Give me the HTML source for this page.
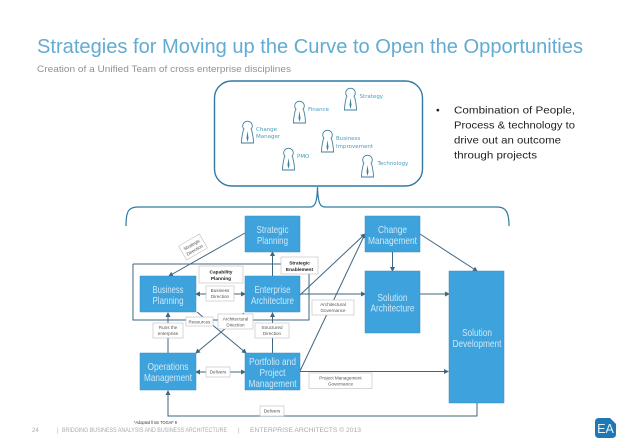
<!DOCTYPE html>
<html><head><meta charset="utf-8"><style>
html,body{margin:0;padding:0;background:#fff}
svg{display:block}
text{font-family:"Liberation Sans",sans-serif}
.n{fill:#3ea3dc;stroke:#3a8fc0;stroke-width:.5}
.w{font-size:10.5px;fill:#cfe8f7;text-anchor:middle}
.l{fill:#fff;stroke:#bdbdbd;stroke-width:.6}
.s{font-size:4.6px;fill:#555;text-anchor:middle}
.b{font-size:4.8px;fill:#222;text-anchor:middle;font-weight:bold}
.c{stroke:#3f6580;stroke-width:1;fill:none}
.p{font-size:5.5px;fill:#4a9cc0;font-family:"DejaVu Sans",sans-serif}
</style></head><body>
<svg width="638" height="448" viewBox="0 0 638 448" xmlns="http://www.w3.org/2000/svg">
<defs>
<marker id="m" markerWidth="5" markerHeight="5" refX="4" refY="2.5" orient="auto" markerUnits="userSpaceOnUse"><path d="M0 0L5 2.5L0 5z" fill="#3f6580"/></marker>
<g id="person"><circle cx="6.500" cy="4" r="4.800" fill="#fff" stroke="#3f7f9f" stroke-width=".9"/><path d="M2.500 7.500C1.500 12 .5 15 .5 21L12.500 21C12.500 15 11.500 12 10.500 7.500" fill="#fff" stroke="#3f7f9f" stroke-width=".9"/><path d="M6.500 9L5.500 16L6.500 20L7.500 16z" fill="#3f7f9f"/></g>
</defs>

<text x="37" y="53" font-size="20.5" fill="#62abd3" textLength="546" lengthAdjust="spacingAndGlyphs">Strategies for Moving up the Curve to Open the Opportunities</text>
<text x="37" y="72" font-size="9.5" fill="#929292" textLength="254" lengthAdjust="spacingAndGlyphs">Creation of a Unified Team of cross enterprise disciplines</text>

<rect x="214.500" y="81" width="208" height="105" rx="17" fill="#fff" stroke="#2f7aa3" stroke-width="1.400"/>
<use href="#person" x="344" y="89"/>
<text class="p" x="359.500" y="98">Strategy</text>
<use href="#person" x="293" y="102"/>
<text class="p" x="308" y="111">Finance</text>
<use href="#person" x="241" y="122"/>
<text class="p" x="256" y="131">Change</text>
<text class="p" x="256" y="138">Manager</text>
<use href="#person" x="321" y="131"/>
<text class="p" x="336" y="140">Business</text>
<text class="p" x="336" y="148">Improvement</text>
<use href="#person" x="282" y="149"/>
<text class="p" x="297" y="158">PMO</text>
<use href="#person" x="361" y="156"/>
<text class="p" x="377.500" y="165">Technology</text>

<text x="436" y="113.500" font-size="10.500" fill="#222">•</text>
<text x="454" y="113.500" font-size="10.500" fill="#222" textLength="121" lengthAdjust="spacingAndGlyphs">Combination of People,</text>
<text x="454" y="128.500" font-size="10.500" fill="#222" textLength="121" lengthAdjust="spacingAndGlyphs">Process &amp; technology to</text>
<text x="454" y="143.500" font-size="10.500" fill="#222" textLength="107" lengthAdjust="spacingAndGlyphs">drive out an outcome</text>
<text x="454" y="158.500" font-size="10.500" fill="#222" textLength="83" lengthAdjust="spacingAndGlyphs">through projects</text>

<path d="M126 226C126 212 128 207 138 207L310 207C315 207 317 203 317.500 187C318 203 320 207 325 207L497 207C506 207 509 212 509 226" fill="none" stroke="#2f7aa3" stroke-width="1.200"/>

<path d="M133 264H300M133 264V320H309V270" class="c" stroke-width=".9"/>

<path class="c" d="M245 233L169 276" marker-end="url(#m)"/>
<path class="c" d="M272.500 276V252" marker-end="url(#m)"/>
<path class="c" d="M300 295L365 234" marker-end="url(#m)"/>
<path class="c" d="M300 294H365" marker-end="url(#m)" stroke-width=".7"/>
<path class="c" d="M300 371L365 234" marker-end="url(#m)"/>
<path class="c" d="M420 234L477 271" marker-end="url(#m)"/>
<path class="c" d="M392.500 252V271" marker-end="url(#m)"/>
<path class="c" d="M420 294H449" marker-end="url(#m)" stroke-width="1.300"/>
<path class="c" d="M300 371.500H448" marker-end="url(#m)"/>
<path class="c" d="M477 403V416H168V391" marker-end="url(#m)" stroke-width="1.200"/>
<path class="c" d="M196 294H245" marker-end="url(#m)" stroke-width=".7"/>
<path class="c" d="M245 294H196" marker-end="url(#m)" stroke-width=".7"/>
<path class="c" d="M196 372H245" marker-end="url(#m)" stroke-width=".7"/>
<path class="c" d="M245 372H196" marker-end="url(#m)" stroke-width=".7"/>
<path class="c" d="M168 353V313" marker-end="url(#m)" stroke-width=".7"/>
<path class="c" d="M272.500 353V313" marker-end="url(#m)" stroke-width=".7"/>
<path class="c" d="M197 312L246 353" marker-end="url(#m)" stroke-width=".8"/>
<path class="c" d="M244 313L196 353" marker-end="url(#m)" stroke-width=".8"/>

<rect class="n" x="245" y="216" width="55" height="36"/>
<text class="w" x="272.500" y="233" textLength="32" lengthAdjust="spacingAndGlyphs">Strategic</text><text class="w" x="272.500" y="244" textLength="31" lengthAdjust="spacingAndGlyphs">Planning</text>
<rect class="n" x="140" y="276" width="56" height="36"/>
<text class="w" x="168" y="293" textLength="31" lengthAdjust="spacingAndGlyphs">Business</text><text class="w" x="168" y="304" textLength="31" lengthAdjust="spacingAndGlyphs">Planning</text>
<rect class="n" x="245" y="276" width="55" height="36"/>
<text class="w" x="272.500" y="293" textLength="36" lengthAdjust="spacingAndGlyphs">Enterprise</text><text class="w" x="272.500" y="304" textLength="43" lengthAdjust="spacingAndGlyphs">Architecture</text>
<rect class="n" x="365" y="216" width="55" height="36"/>
<text class="w" x="392.500" y="233" textLength="29" lengthAdjust="spacingAndGlyphs">Change</text><text class="w" x="392.500" y="244" textLength="49" lengthAdjust="spacingAndGlyphs">Management</text>
<rect class="n" x="365" y="271" width="55" height="62"/>
<text class="w" x="392.500" y="301" textLength="30" lengthAdjust="spacingAndGlyphs">Solution</text><text class="w" x="392.500" y="311.500" textLength="44" lengthAdjust="spacingAndGlyphs">Architecture</text>
<rect class="n" x="449" y="271" width="55" height="132"/>
<text class="w" x="477" y="336" textLength="30" lengthAdjust="spacingAndGlyphs">Solution</text><text class="w" x="477" y="347" textLength="49" lengthAdjust="spacingAndGlyphs">Development</text>
<rect class="n" x="140" y="353" width="56" height="37"/>
<text class="w" x="168" y="370" textLength="41" lengthAdjust="spacingAndGlyphs">Operations</text><text class="w" x="168" y="381" textLength="48" lengthAdjust="spacingAndGlyphs">Management</text>
<rect class="n" x="245" y="353" width="55" height="37"/>
<text class="w" x="272.500" y="365" textLength="47" lengthAdjust="spacingAndGlyphs">Portfolio and</text><text class="w" x="272.500" y="376" textLength="26" lengthAdjust="spacingAndGlyphs">Project</text><text class="w" x="272.500" y="387" textLength="48" lengthAdjust="spacingAndGlyphs">Management</text>

<g transform="rotate(-30 193 247)"><rect class="l" x="181" y="239" width="24" height="16"/><text class="s" x="193" y="246">Strategic</text><text class="s" x="193" y="252">Direction</text></g>
<rect class="l" x="199" y="266" width="44" height="17"/><text class="b" x="221" y="273.500">Capability</text><text class="b" x="221" y="280">Planning</text>
<rect class="l" x="281" y="257" width="37" height="17"/><text class="b" x="299.500" y="264.500">Strategic</text><text class="b" x="299.500" y="271">Enablement</text>
<rect class="l" x="206" y="286" width="28" height="15"/><text class="s" x="220" y="292">Business</text><text class="s" x="220" y="298">Direction</text>
<rect class="l" x="312" y="300" width="42" height="15"/><text class="s" x="333" y="306">Architectural</text><text class="s" x="333" y="312">Governance</text>
<rect class="l" x="186" y="317" width="27" height="9"/><text class="s" x="199.500" y="323.500">Resources</text>
<rect class="l" x="218" y="314" width="35" height="15"/><text class="s" x="235.500" y="320.500">Architectural</text><text class="s" x="235.500" y="326.500">Direction</text>
<rect class="l" x="153" y="323" width="30" height="15"/><text class="s" x="168" y="329">Runs the</text><text class="s" x="168" y="335">enterprise</text>
<rect class="l" x="255" y="323" width="34" height="15"/><text class="s" x="272" y="329">Structured</text><text class="s" x="272" y="335">Direction</text>
<rect class="l" x="206" y="367" width="24" height="10"/><text class="s" x="218" y="373.500">Delivers</text>
<rect class="l" x="309" y="373" width="63" height="15.500"/><text class="s" x="340.500" y="379.500">Project Management</text><text class="s" x="340.500" y="385.500">Governance</text>
<rect class="l" x="260" y="406" width="24" height="10"/><text class="s" x="272" y="412.500">Delivers</text>

<text x="134" y="424" font-size="4.600" fill="#333" textLength="43" lengthAdjust="spacingAndGlyphs">*Adapted from TOGAF 9</text>
<text x="32" y="432" font-size="6" fill="#aaa">24</text>
<text x="57" y="432" font-size="6" fill="#aaa">|</text>
<text x="62" y="432" font-size="6" fill="#aaa" textLength="165" lengthAdjust="spacingAndGlyphs">BRIDGING BUSINESS ANALYSIS AND BUSINESS ARCHITECTURE</text>
<text x="238" y="432" font-size="6" fill="#aaa">|</text>
<text x="250" y="432" font-size="6" fill="#aaa" textLength="111" lengthAdjust="spacingAndGlyphs">ENTERPRISE ARCHITECTS © 2013</text>

<path d="M599 418H610L616 424V434Q616 438 612 438H599Q595 438 595 434V422Q595 418 599 418Z" fill="#1f77b4"/>
<text x="605.500" y="433" font-size="12.500" fill="#e6f4fc" text-anchor="middle">EA</text>
</svg>
</body></html>
